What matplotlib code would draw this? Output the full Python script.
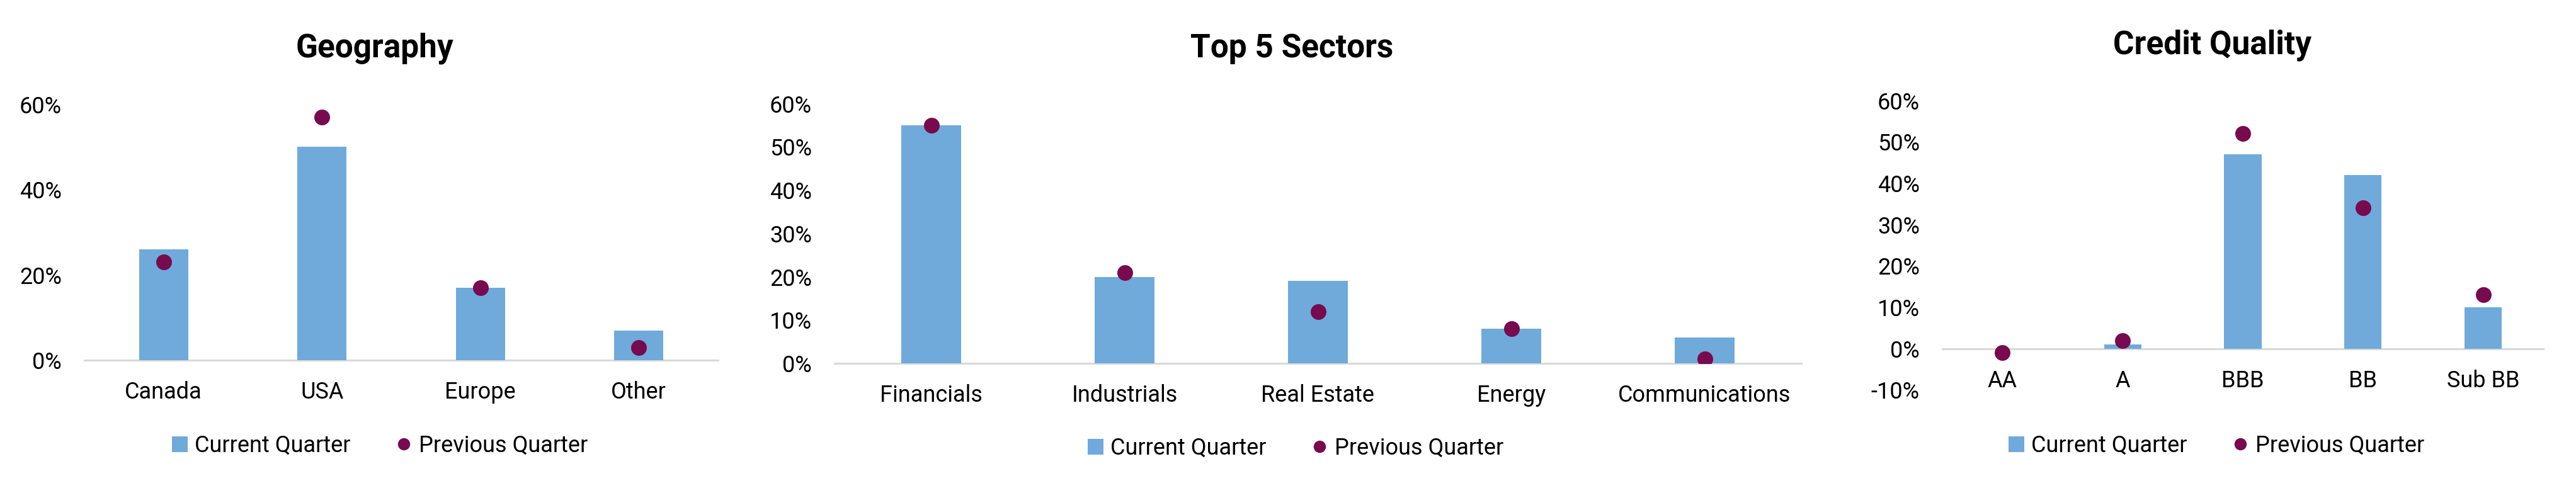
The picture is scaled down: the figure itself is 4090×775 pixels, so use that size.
import matplotlib
matplotlib.use("Agg")
import matplotlib.pyplot as plt
from matplotlib.patches import Patch
from matplotlib.lines import Line2D
from matplotlib.ticker import FuncFormatter

plt.rcParams['font.family'] = ['Liberation Sans Narrow', 'Roboto', 'DejaVu Sans']
plt.rcParams['axes.unicode_minus'] = False

# data
geo_cats = ["Canada", "USA", "Europe", "Other"]
geo_current = [0.26, 0.50, 0.17, 0.07]
geo_previous = [0.23, 0.57, 0.17, 0.03]

sector_cats = ["Financials", "Industrials", "Real Estate", "Energy", "Communications"]
sector_current = [0.55, 0.20, 0.19, 0.08, 0.06]
sector_previous = [0.55, 0.21, 0.12, 0.08, 0.01]

credit_cats = ["AA", "A", "BBB", "BB", "Sub BB"]
credit_current = [0.0, 0.01, 0.47, 0.42, 0.10]
credit_previous = [-0.01, 0.02, 0.52, 0.34, 0.13]

BAR = "#6FAADB"
DOT = "#780A4F"
AXIS = "#D9D9D9"

W, H = 4090, 775
fig = plt.figure(figsize=(W / 100, H / 100), dpi=100)


def px_box(x0, x1, ytop, ybot):
    return [x0 / W, 1 - ybot / H, (x1 - x0) / W, (ybot - ytop) / H]


panels = [
    # title, cats, current, previous, axes box (px), ylim, yticks, title pos, legend pos
    ("Geography", geo_cats, geo_current, geo_previous,
     px_box(134, 1140, 165.6, 572), (0, 0.6), [0, 0.2, 0.4, 0.6], (595, 77), (603, 708)),
    ("Top 5 Sectors", sector_cats, sector_current, sector_previous,
     px_box(1325, 2860, 164.6, 577), (0, 0.6), [0, 0.1, 0.2, 0.3, 0.4, 0.5, 0.6], (2051, 77), (2057, 712)),
    ("Credit Quality", credit_cats, credit_current, credit_previous,
     px_box(3084, 4038, 159.7, 619.3), (-0.1, 0.6), [-0.1, 0, 0.1, 0.2, 0.3, 0.4, 0.5, 0.6], (3513, 72), (3519, 708)),
]

for title, cats, cur, prev, box, ylim, yticks, tpos, lpos in panels:
    ax = fig.add_axes(box)
    x = range(len(cats))
    ax.bar(x, cur, width=0.31, color=BAR, zorder=2)
    ax.plot(x, prev, 'o', color=DOT, markersize=18, markeredgewidth=0, zorder=3)
    ax.set_xlim(-0.5, len(cats) - 0.5)
    ax.set_ylim(*ylim)
    ax.set_yticks(yticks)
    ax.yaxis.set_major_formatter(FuncFormatter(lambda v, p: f"{v * 100:.0f}%"))
    ax.set_xticks(list(x))
    ax.set_xticklabels(cats)
    for s in ['top', 'right', 'left']:
        ax.spines[s].set_visible(False)
    ax.spines['bottom'].set_position(('data', 0))
    ax.spines['bottom'].set_color(AXIS)
    ax.spines['bottom'].set_linewidth(2.2)
    ax.spines['bottom'].set_zorder(1)
    ax.tick_params(axis='x', length=0, pad=24, labelsize=26)
    ax.tick_params(axis='y', length=0, pad=26, labelsize=26)

    fig.text(tpos[0] / W, 1 - tpos[1] / H, title, ha='center', va='center',
             fontsize=37, fontweight='bold')

    handles = [Patch(facecolor=BAR, edgecolor='none'),
               Line2D([], [], marker='o', linestyle='none', color=DOT,
                      markersize=14, markeredgewidth=0)]
    fig.legend(handles, ["Current Quarter", "Previous Quarter"],
               loc='center', bbox_to_anchor=(lpos[0] / W, 1 - lpos[1] / H),
               ncol=2, frameon=False, fontsize=26, handlelength=0.7,
               handleheight=0.7, handletextpad=0.3, columnspacing=2.0)

fig.savefig("out.png", dpi=100)
